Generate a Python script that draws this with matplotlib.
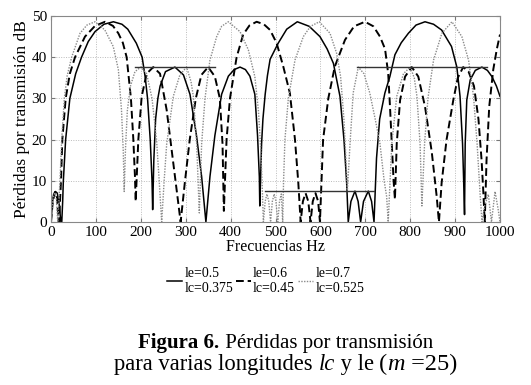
import matplotlib as mpl
import matplotlib.pyplot as plt
from matplotlib.offsetbox import TextArea, HPacker, VPacker, AnnotationBbox

mpl.rcParams['font.family'] = 'serif'
mpl.rcParams['font.serif'] = ['Liberation Serif', 'DejaVu Serif']

# le=0.5, lc=0.375 (solid)
f_a = [0, 3, 6, 10, 14, 18, 22,
       24, 26, 27.5, 32.6, 42, 55, 68, 83, 98, 118, 139, 158, 171, 190, 203, 210, 215, 221, 225, 226.4,
       229, 233, 238, 243, 255, 276, 295, 309.5, 324, 335.5, 345,
       354, 365, 380, 395, 408, 421, 433, 443, 454, 460, 464, 465,
       469, 472, 477, 482, 488, 506, 525, 548.6, 575, 599, 615, 629, 643.6, 652.5, 658.5, 662,
       668, 677, 684, 689.6, 696, 706.7, 714, 719.4,
       725, 732, 743.6, 754.7, 766, 780, 795.9, 813, 833, 852, 870, 892, 903.9, 911, 916.6, 918.8, 921,
       922.5, 926, 933.7, 945, 959.6, 972, 982, 992, 1000]
db_a = [0, 4.5, 6.8, 7.4, 7.0, 4.5, 0,
        0, 5, 10, 20, 30, 36, 40, 43.8, 46.2, 48.0, 48.6, 48.0, 46.8, 43.4, 40, 35, 30, 20, 10, 3,
        15, 25, 30, 33, 36.5, 37.6, 35.7, 31, 21, 11, 0,
        11, 21, 31, 35.4, 37, 37.6, 37, 35.4, 31, 21, 11, 3.9,
        19, 25, 31, 35.5, 39.5, 43.4, 46.8, 48.6, 47.5, 45, 42, 38.5, 30.5, 20, 9.5, 0,
        5, 7.5, 5, 0, 5, 7.5, 5, 0,
        15.5, 25, 31.3, 35.3, 40.6, 43.5, 45.8, 47.8, 48.6, 48, 46.6, 42.6, 37.6, 30.5, 19, 11, 1.8,
        19, 29.6, 34.5, 36.8, 37.6, 36.8, 35.3, 33, 30.5]

# le=0.6, lc=0.45 (dashed)
f_b = [0, 4, 9, 13, 17,
       17.8, 22.3, 25.2, 32.7, 42, 53.5, 75.7, 98, 120.3, 138, 150, 160, 168.5, 178, 183.4, 187, 188.6,
       194.5, 202, 213, 227.8, 242.8, 257.6, 268.7, 279.8, 288.7,
       298, 309, 322.5, 335, 350, 365, 376, 382, 385,
       391, 398.6, 413.4, 428, 442, 458, 474, 488, 502.6, 517.4, 532, 543.4, 550.8, 556,
       561, 567, 573, 578, 583, 589, 595, 599,
       606, 617.6, 632, 654.8, 675, 699.3, 718, 732.7, 744, 751, 755, 759, 763, 766,
       770, 777.5, 788.6, 803.5, 818, 833, 848, 859, 864,
       870, 881, 896, 906, 918, 930, 942, 952, 959, 963, 966, 970, 976, 985, 993, 1000]
db_b = [0, 5, 7.3, 6.5, 0,
        0, 10, 20, 30, 36, 40, 45, 47.6, 48.6, 47.6, 45.8, 43.5, 40, 30, 20, 11, 5,
        20, 30.5, 36, 37.6, 36, 27.2, 17.5, 7.8, 0,
        9.5, 20, 30, 35.7, 37.6, 35.3, 30, 19, 2.7,
        20, 30, 40, 45.5, 47.7, 48.6, 48, 46.6, 43.4, 37.7, 31.3, 20, 9.5, 0,
        5, 7, 5, 0, 5, 7, 5, 0,
        20, 30, 37.7, 44.2, 47.5, 48.6, 47.5, 45, 42, 36, 28, 19, 10, 5.5,
        19, 29.6, 35.3, 37.6, 35.3, 28, 17, 6.2, 0,
        9.5, 20, 29.6, 35, 37.6, 36.5, 33, 25, 15, 7, 0, 15, 28, 37, 42, 45.5]

# le=0.7, lc=0.525 (dotted)
f_c = [0, 4, 8, 12, 15,
       20, 23.8, 29.7, 36, 46, 64.6, 80, 98, 120, 138.6, 150, 157, 161, 163,
       166, 170, 177, 187, 200, 213, 225, 235, 241, 246.5,
       252, 257.7, 272.4, 287, 302, 312, 317, 324.4, 330.3,
       335.5, 343, 354, 369, 380, 395, 421, 439.5, 454, 462, 467, 470, 473,
       477, 481, 485, 489, 493, 497, 501, 505, 509, 513, 516,
       518, 521, 528.6, 543.4, 562, 578, 597.6, 621.4, 636, 645, 652.5, 657, 660,
       666, 673, 684.4, 697, 710, 722, 732.7, 742, 747.5, 751,
       759, 770, 785, 800, 809, 815, 822, 826,
       832, 839.5, 852, 870.5, 893, 915, 930, 941, 949, 956, 960,
       966, 974, 981, 989, 996, 1000]
db_c = [0, 5.5, 7.2, 5.5, 0,
        10, 20, 30, 35.5, 40, 45.8, 47.8, 48.6, 46.6, 42.6, 37, 27.2, 17, 7.4,
        18, 27, 33, 36.5, 37.6, 36, 30, 20, 10, 0,
        10, 19, 30.5, 35.7, 37.6, 34, 30.5, 19, 2.2,
        19, 30, 39.3, 45, 47.5, 48.6, 46.2, 41.8, 35.3, 27, 18, 10, 0,
        5, 6.8, 5, 0, 5, 6.8, 5, 0, 5, 6.8, 0,
        10, 20, 30, 39.3, 45, 47.5, 48.6, 45.8, 41, 35.3, 24.8, 15, 7.4,
        19, 31.3, 37.6, 36, 31.3, 25, 19, 10, 6.2, 0,
        19, 30.5, 36, 37.6, 35, 30.5, 19, 3.9,
        19, 30, 39.3, 45.8, 48.6, 45, 39.3, 30.5, 19, 6.2, 0,
        4, 6.7, 0, 7.4, 3, 0]

# reference levels (start Hz, end Hz, dB)
ref_start = [187, 681, 476]
ref_end = [365, 970, 720]
ref_level = [37.6, 37.6, 7.5]

labels = ['le=0.5\nlc=0.375', 'le=0.6\nlc=0.45', 'le=0.7\nlc=0.525']

fig = plt.figure(figsize=(5.31, 3.85), dpi=100)
ax = fig.add_axes([51/531, 1-222/385, 449/531, 206/385])

l1, = ax.plot(f_a, db_a, color='black', lw=1.1, ls='-')
l2, = ax.plot(f_b, db_b, color='black', lw=1.4, ls=(0, (4, 2)))
l3, = ax.plot(f_c, db_c, color='#8a8a8a', lw=1.0, ls=(0, (1, 1)))
for s, e, v in zip(ref_start, ref_end, ref_level):
    ax.plot([s, e], [v, v], color='#333333', lw=1.0)

ax.set_xlim(0, 1000)
ax.set_ylim(0, 50)
ax.set_xticks(range(0, 1001, 100))
ax.set_yticks(range(0, 51, 10))
ax.grid(True, color='#bbbbbb', ls=(0, (1, 1.5)), lw=0.7)
ax.tick_params(direction='in', length=3, labelsize=11, color='#777777', pad=3,
               top=True, right=True)
for sp in ax.spines.values():
    sp.set_color('#888888')
ax.set_xlabel('Frecuencias Hz', fontsize=11.5, labelpad=0)
ax.set_ylabel('Pérdidas por transmisión dB', fontsize=12.5, labelpad=1)

fig.legend([l1, l2, l3], labels, loc='center', bbox_to_anchor=(0.5, 1-281/385),
           ncol=3, frameon=False, fontsize=10, handlelength=1.1, handletextpad=0.15,
           columnspacing=0.2, labelspacing=0)

# caption
line1 = HPacker(children=[TextArea('Figura 6.', textprops=dict(fontsize=15, fontweight='bold')),
                          TextArea(' Pérdidas por transmisión', textprops=dict(fontsize=15))],
                pad=0, sep=0, align='baseline')
line2 = HPacker(children=[TextArea('para varias longitudes ', textprops=dict(fontsize=16.3)),
                          TextArea('lc', textprops=dict(fontsize=16.3, style='italic')),
                          TextArea(' y le ', textprops=dict(fontsize=16.3)),
                          TextArea('(', textprops=dict(fontsize=17.5)),
                          TextArea('m', textprops=dict(fontsize=17.5, style='italic')),
                          TextArea(' =25)', textprops=dict(fontsize=17.5))],
                pad=0, sep=0, align='baseline')
cap = VPacker(children=[line1, line2], pad=0, sep=0, align='center')
ab = AnnotationBbox(cap, (0.538, 1-354/385), xycoords='figure fraction', frameon=False,
                    box_alignment=(0.5, 0.5))
fig.add_artist(ab)

fig.savefig('out.png', dpi=100)
